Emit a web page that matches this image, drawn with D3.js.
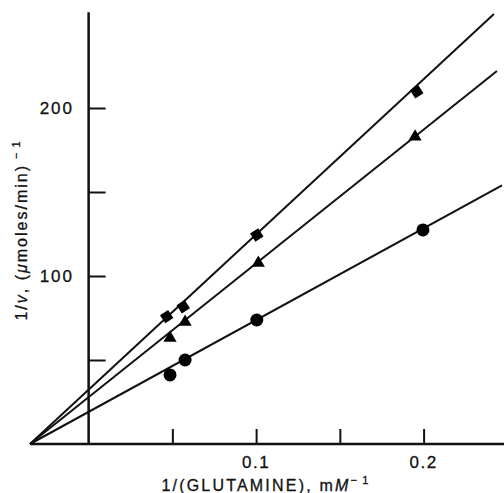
<!DOCTYPE html>
<html>
<head>
<meta charset="utf-8">
<script src="https://cdn.jsdelivr.net/npm/d3@7"></script>
<style>
  html, body { margin: 0; padding: 0; background: #fff; }
  text { font-family: "Liberation Sans", Arial, Helvetica, sans-serif; fill: #111; stroke: #111; stroke-width: 0.3px; }
</style>
</head>
<body>
<div class="lineChart"></div>
<script>
const WIDTH = 504;
const HEIGHT = 493;

// data
var diamondX = [0.0466, 0.0565, 0.1004, 0.1959];
var diamondY = [75.8, 81.7, 124.4, 209.7];
var triangleX = [0.0486, 0.0576, 0.1013, 0.1949];
var triangleY = [63.1, 72.6, 107.7, 182.9];
var circleX = [0.0486, 0.0576, 0.1004, 0.1996];
var circleY = [41.1, 50.0, 73.8, 127.4];

// fitted lines: common x intercept, end points at right edge
var lineStartX = -0.035;
var lineEndX = [0.242, 0.2438, 0.2468];
var lineEndY = [256, 222, 154];

var xTicks = [0.05, 0.1, 0.15, 0.2];
var xTickLabels = ['', '0.1', '', '0.2'];
var yTicks = [50, 100, 150, 200];
var yTickLabels = ['', '100', '', '200'];

function generateCord(xPoints, yPoints) {
    return xPoints.map(function (cord, index) {
        return {x: cord, y: yPoints[index]};
    });
}

var xScale = d3.scaleLinear().domain([-0.035, 0.248]).range([30, 504]);
var yScale = d3.scaleLinear().domain([0, 200]).range([444, 108]);

var svg = d3.select('.lineChart').append('svg')
    .attr('width', WIDTH)
    .attr('height', HEIGHT);

// axes lines
svg.append('line')
    .attr('x1', xScale(lineStartX)).attr('x2', xScale(0.248))
    .attr('y1', yScale(0)).attr('y2', yScale(0))
    .attr('stroke', '#111').attr('stroke-width', 2.5);
svg.append('line')
    .attr('x1', xScale(0)).attr('x2', xScale(0))
    .attr('y1', yScale(0)).attr('y2', yScale(257))
    .attr('stroke', '#111').attr('stroke-width', 2.5);

var xAxis = d3.axisTop(xScale).tickValues(xTicks)
    .tickSize(15).tickFormat(function () { return ''; });
var xAxisG = svg.append('g').attr('transform', 'translate(0,' + yScale(0) + ')').call(xAxis);
xAxisG.select('.domain').remove();
xAxisG.selectAll('line').attr('stroke', '#111').attr('stroke-width', 2);

var yAxis = d3.axisRight(yScale).tickValues(yTicks)
    .tickSize(17).tickFormat(function () { return ''; });
var yAxisG = svg.append('g').attr('transform', 'translate(' + xScale(0) + ',0)').call(yAxis);
yAxisG.select('.domain').remove();
yAxisG.selectAll('line').attr('stroke', '#111').attr('stroke-width', 2);

// tick labels
svg.append('g').selectAll('text').data(xTicks).enter().append('text')
    .attr('x', function (d) { return xScale(d); })
    .attr('y', 468)
    .attr('text-anchor', 'middle')
    .style('font-size', '17px')
    .style('letter-spacing', '1.5px')
    .text(function (d, i) { return xTickLabels[i]; });

svg.append('g').selectAll('text').data(yTicks).enter().append('text')
    .attr('x', 74)
    .attr('y', function (d) { return yScale(d); })
    .attr('dy', '0.36em')
    .attr('text-anchor', 'end')
    .style('font-size', '17px')
    .style('letter-spacing', '2px')
    .text(function (d, i) { return yTickLabels[i]; });

// fitted lines
var line = d3.line().x(function (d) { return xScale(d.x); }).y(function (d) { return yScale(d.y); });
lineEndX.forEach(function (ex, i) {
    svg.append('path')
        .attr('d', line([{x: lineStartX, y: 0}, {x: ex, y: lineEndY[i]}]))
        .attr('stroke', '#111')
        .attr('stroke-width', 2)
        .attr('fill', 'none');
});

// markers
svg.append('g').selectAll('path').data(generateCord(diamondX, diamondY)).enter().append('path')
    .attr('d', d3.symbol().type(d3.symbolDiamond2).size(120))
    .attr('transform', function (d) { return 'translate(' + xScale(d.x) + ',' + yScale(d.y) + ') rotate(12)'; })
    .attr('fill', '#000');

svg.append('g').selectAll('path').data(generateCord(triangleX, triangleY)).enter().append('path')
    .attr('d', d3.symbol().type(d3.symbolTriangle).size(75))
    .attr('transform', function (d) { return 'translate(' + xScale(d.x) + ',' + yScale(d.y) + ')'; })
    .attr('fill', '#000');

svg.append('g').selectAll('circle').data(generateCord(circleX, circleY)).enter().append('circle')
    .attr('cx', function (d) { return xScale(d.x); })
    .attr('cy', function (d) { return yScale(d.y); })
    .attr('r', 6.5)
    .attr('fill', '#000');

// axis titles
var xLabel = svg.append('text')
    .attr('x', 266).attr('y', 491)
    .attr('text-anchor', 'middle')
    .style('font-size', '16px')
    .style('letter-spacing', '2.2px');
xLabel.append('tspan').text('1/(GLUTAMINE), m');
xLabel.append('tspan').style('font-style', 'italic').text('M');
xLabel.append('tspan').attr('dy', -7).style('font-size', '11px').text('\u2212\u200a1');

var yLabel = svg.append('text')
    .attr('transform', 'translate(27,230) rotate(-90)')
    .attr('text-anchor', 'middle')
    .style('font-size', '16px')
    .style('letter-spacing', '2px');
yLabel.append('tspan').text('1/');
yLabel.append('tspan').style('font-style', 'italic').text('v');
yLabel.append('tspan').text(', (');
yLabel.append('tspan').style('font-style', 'italic').text('\u03bc');
yLabel.append('tspan').text('moles/min)');
yLabel.append('tspan').attr('dy', -7).style('font-size', '11px').text(' \u2212\u200a1');
</script>
</body>
</html>
